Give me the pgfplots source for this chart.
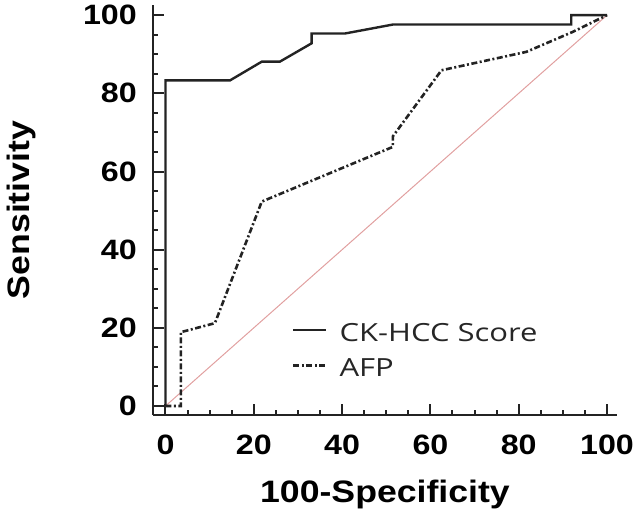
\documentclass[border=0pt]{standalone}
\usepackage{fontspec}
\setmainfont{Liberation Sans}
\newfontfamily\stretchsans[FakeStretch=1.15]{Liberation Sans}
\newfontfamily\legfont[FakeStretch=1.24]{Open Sans}
\usepackage{pgfplots}
\pgfplotsset{compat=1.18}
\definecolor{diag}{RGB}{225,160,160}
\definecolor{curve}{RGB}{35,35,35}
\begin{document}
\begin{tikzpicture}
\path[use as bounding box] (-153pt,-102pt) rectangle (487pt,415pt);
\begin{axis}[
  at={(0pt,0pt)}, anchor=south west,
  scale only axis, width=464pt, height=410pt,
  xmin=-2.83, xmax=102.26, ymin=-2.3, ymax=102.6,
  axis x line*=bottom, axis y line*=left,
  axis line style={line width=2.6pt, color=curve},
  xtick={0,20,...,100}, ytick={0,20,...,100}, minor tick num=3,
  tick align=inside,
  major tick length=11pt, minor tick length=5pt,
  tick style={line width=2pt, color=curve},
  /pgf/number format/assume math mode=true,
  ticklabel style={font=\stretchsans\bfseries\fontsize{28}{30}\selectfont, text=black},
  xticklabel style={inner sep=0pt, anchor=north, yshift=-20pt},
  yticklabel style={inner sep=0pt, anchor=east, xshift=-16pt},
  xlabel={100-Specificity},
  ylabel={Sensitivity},
  label style={font=\stretchsans\bfseries\fontsize{31}{33}\selectfont, text=black, inner sep=0pt},
  xlabel style={at={(axis description cs:0.5,-0.1585)}, anchor=north},
  ylabel style={at={(axis description cs:-0.267,0.5)}, anchor=base},
  legend style={at={(axis description cs:0.2996,0.2244)}, anchor=north west,
    draw=none, fill=none, inner sep=0pt, outer sep=0pt,
    row sep=16pt, column sep=12pt,
    font=\legfont\fontsize{25}{27}\selectfont, text=black!85,
    nodes={inner sep=0pt}},
  legend cell align=left,
  legend image code/.code={\draw[#1] (0pt,3pt) -- (33pt,3pt);},
]
\addplot[diag, line width=1pt, forget plot] coordinates {(0,0) (100,100)};
\addplot[curve, line width=2.4pt, line join=miter] coordinates {
  (0,0) (0,83.3) (14.6,83.3) (21.8,88.1) (25.9,88.1) (33.1,92.8) (33.1,95.3)
  (40.6,95.3) (51.5,97.6) (91.9,97.6) (91.9,100) (100,100)};
\addlegendentry{CK-HCC Score}
\addplot[curve, line width=2.6pt, dash pattern=on 6pt off 2.5pt on 2pt off 2.5pt] coordinates {
  (0,0) (3.5,0) (3.5,18.9) (11.2,21.2) (21.8,52.3) (51.5,66.3) (51.5,69)
  (62.5,85.9) (81.7,90.6) (92.2,95.7) (100,100)};
\addlegendentry{AFP}
\end{axis}
\end{tikzpicture}
\end{document}
